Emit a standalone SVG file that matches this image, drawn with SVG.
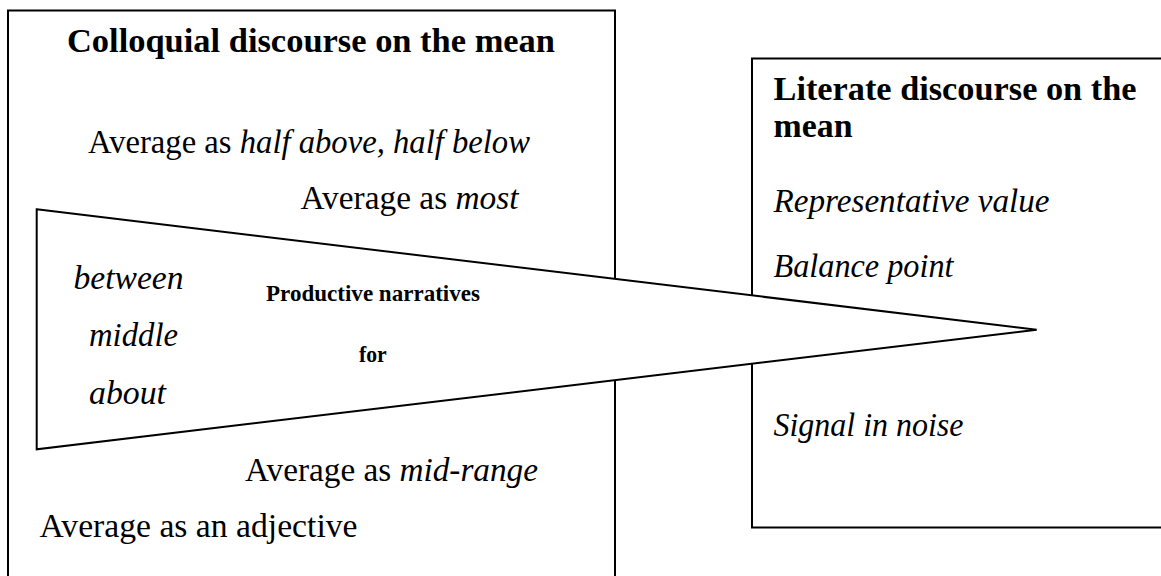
<svg xmlns="http://www.w3.org/2000/svg" width="1161" height="576" viewBox="0 0 1161 576">
  <style>
    .box { fill: #fff; stroke: #000; stroke-width: 2; }
    .wedge { fill: #fff; stroke: #000; stroke-width: 2; stroke-linejoin: miter; }
    text { font-family: "Liberation Serif", "DejaVu Serif", serif; fill: #000; }
    .t { font-size: 33px; }
    .h { font-size: 33px; font-weight: bold; }
    .s { font-size: 23px; font-weight: bold; }
    .i { font-style: italic; }
  </style>

  <!-- Colloquial discourse box (runs off the bottom edge) -->
  <g id="colloquial">
    <rect class="box" x="8" y="10.5" width="607" height="600"/>
    <text class="h" x="67" y="52" textLength="488" lengthAdjust="spacingAndGlyphs">Colloquial discourse on the mean</text>
    <text class="t" x="88" y="152.5" textLength="442" lengthAdjust="spacingAndGlyphs">Average as <tspan class="i">half above, half below</tspan></text>
    <text class="t" x="300.5" y="208.5" textLength="218" lengthAdjust="spacingAndGlyphs">Average as <tspan class="i">most</tspan></text>
    <text class="t" x="245" y="481" textLength="293" lengthAdjust="spacingAndGlyphs">Average as <tspan class="i">mid-range</tspan></text>
    <text class="t" x="39.5" y="537" textLength="318" lengthAdjust="spacingAndGlyphs">Average as an adjective</text>
  </g>

  <!-- Literate discourse box (runs off the right edge) -->
  <g id="literate">
    <rect class="box" x="752" y="58.5" width="460" height="469"/>
    <text class="h" x="773.5" y="99.5" textLength="363" lengthAdjust="spacingAndGlyphs">Literate discourse on the</text>
    <text class="h" x="773.5" y="137" textLength="79" lengthAdjust="spacingAndGlyphs">mean</text>
    <text class="t i" x="773.5" y="212" textLength="276" lengthAdjust="spacingAndGlyphs">Representative value</text>
    <text class="t i" x="773.5" y="276.5" textLength="180" lengthAdjust="spacingAndGlyphs">Balance point</text>
    <text class="t i" x="773.5" y="435.5" textLength="190" lengthAdjust="spacingAndGlyphs">Signal in noise</text>
  </g>

  <!-- Narrowing wedge laid over both boxes -->
  <g id="connectors">
    <polygon class="wedge" points="36.7,209.3 1036.7,329.7 36.7,449.3"/>
  </g>

  <g id="productive-narratives">
    <text class="t i" x="73.5" y="289" textLength="110" lengthAdjust="spacingAndGlyphs">between</text>
    <text class="t i" x="89" y="345.5" textLength="89" lengthAdjust="spacingAndGlyphs">middle</text>
    <text class="t i" x="89" y="404" textLength="77" lengthAdjust="spacingAndGlyphs">about</text>
    <text class="s" x="266" y="301" textLength="214" lengthAdjust="spacingAndGlyphs">Productive narratives</text>
    <text class="s" x="359" y="362" textLength="27.7" lengthAdjust="spacingAndGlyphs">for</text>
  </g>
</svg>
